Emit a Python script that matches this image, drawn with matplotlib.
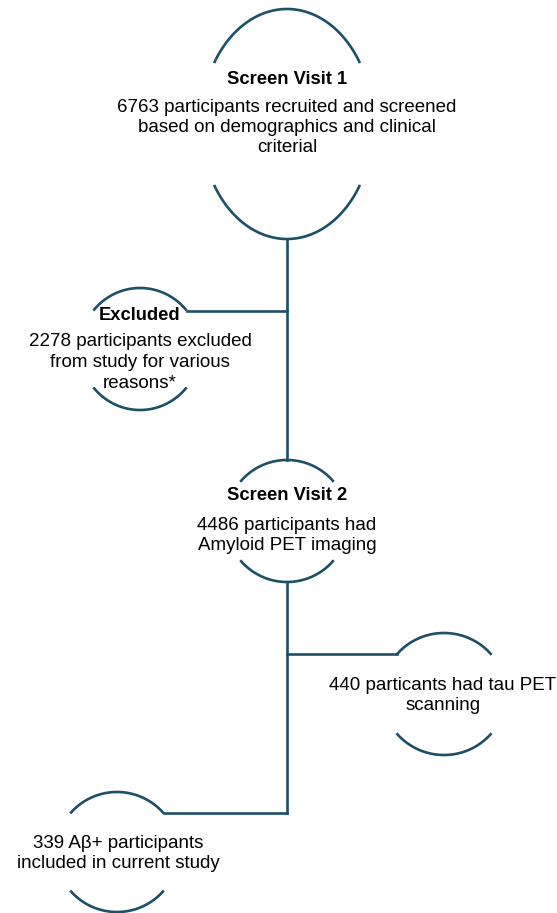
import numpy as np
import matplotlib
matplotlib.use("Agg")
import matplotlib.pyplot as plt

# ================= DATA ================= #
TITLES = ["Screen Visit 1", "Excluded", "Screen Visit 2", "", ""]
BODIES = [
    "6763 participants recruited and screened\nbased on demographics and clinical\ncriterial",
    "2278 participants excluded\nfrom study for various\nreasons*",
    "4486 participants had\nAmyloid PET imaging",
    "440 particants had tau PET\nscanning",
    "339 A\u03b2+ participants\nincluded in current study",
]

# ================= LAYOUT (pixels) ================= #
# centre x, centre y, semi-axis x, semi-axis y, arc half-opening angle (deg)
NODES = [
    (287, 124, 86, 115, 32),
    (140, 349, 60, 61, 39),
    (287, 521, 61, 61, 40),
    (444, 694, 62, 61, 40),
    (117, 852, 61, 60, 40),
]
TEXT_Y = [(80, 107), (316, 342), (496, 525), (None, 685), (None, 843)]
TEXT_X = [287, 140, 287, 443, 118]

LINKS = [
    [(287, 239), (287, 460)],
    [(187, 311), (287, 311)],
    [(287, 582), (287, 813)],
    [(287, 654), (397, 654)],
    [(164, 813), (287, 813)],
]

LINE_COLOR = "#1d4f68"
LW = 1.9
FONT = "Liberation Sans"
FS = 13.5
FS_TITLE = 13.2
LINE_GAP = 20.5

# ================= FIGURE ================= #
fig = plt.figure(figsize=(5.57, 9.13), dpi=100, facecolor="white")
ax = fig.add_axes([0, 0, 1, 1])
ax.set_xlim(0, 557)
ax.set_ylim(913, 0)
ax.axis("off")

for (cx, cy, a, b, t0) in NODES:
    t = np.radians(np.linspace(t0, 180 - t0, 100))
    ax.plot(cx + a * np.cos(t), cy - b * np.sin(t), color=LINE_COLOR, lw=LW, solid_capstyle="butt")
    ax.plot(cx + a * np.cos(t), cy + b * np.sin(t), color=LINE_COLOR, lw=LW, solid_capstyle="butt")

for (p0, p1) in LINKS:
    ax.plot([p0[0], p1[0]], [p0[1], p1[1]], color=LINE_COLOR, lw=LW, solid_capstyle="projecting")

for title, body, (ty, by), x in zip(TITLES, BODIES, TEXT_Y, TEXT_X):
    if title:
        ax.text(x, ty, title, ha="center", va="center", fontsize=FS_TITLE, fontweight="bold",
                family=FONT, color="black")
    for i, line in enumerate(body.split("\n")):
        ax.text(x, by + i * LINE_GAP, line, ha="center", va="center", fontsize=FS,
                family=[FONT, "DejaVu Sans"], color="black")

fig.savefig("out.png", dpi=100, facecolor="white")
